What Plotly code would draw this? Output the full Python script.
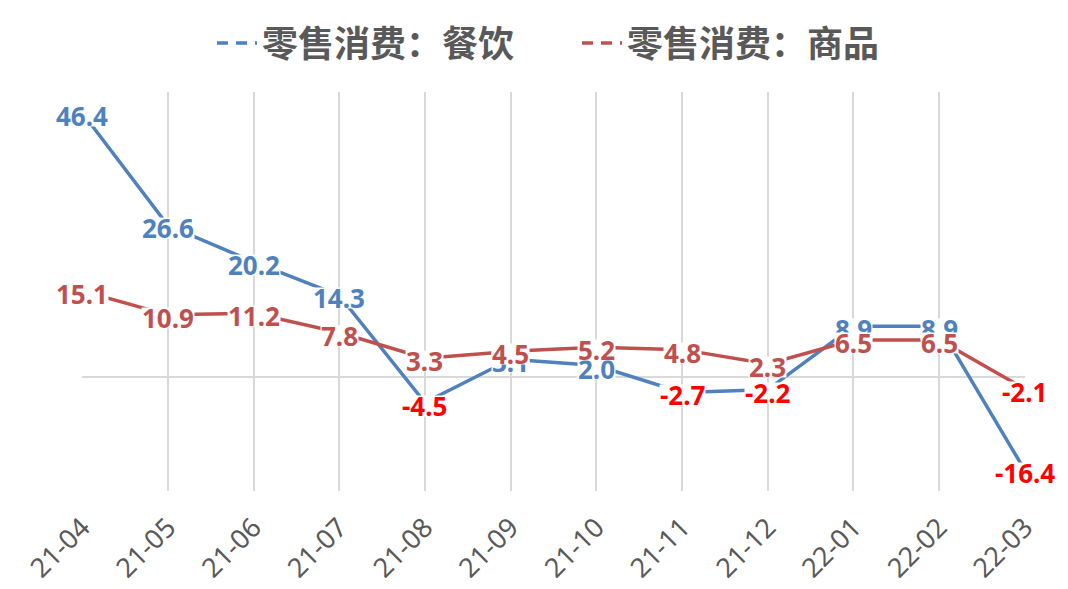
import plotly.graph_objects as go

categories = ["21-04", "21-05", "21-06", "21-07", "21-08", "21-09",
              "21-10", "21-11", "21-12", "22-01", "22-02", "22-03"]
catering = [46.4, 26.6, 20.2, 14.3, -4.5, 3.1, 2.0, -2.7, -2.2, 8.9, 8.9, -16.4]
goods = [15.1, 10.9, 11.2, 7.8, 3.3, 4.5, 5.2, 4.8, 2.3, 6.5, 6.5, -2.1]
series_names = ["零售消费：餐饮", "零售消费：商品"]

BLUE = "#4F81BD"
RED = "#C0504D"
NEG = "#FF0000"
GRAY = "#595959"
GRID = "#D9D9D9"
NUMFONT = "Noto Sans, Noto Sans CJK SC, sans-serif"
CJKFONT = "Noto Sans CJK SC, sans-serif"

fig = go.Figure()
series = [(series_names[0], catering, BLUE), (series_names[1], goods, RED)]
for name, vals, col in series:
    fig.add_trace(go.Scatter(x=categories, y=vals, mode="lines", name=name,
                             line=dict(color=col, width=3.5), showlegend=False))
for name, vals, col in series:
    fig.add_trace(go.Scatter(x=[None], y=[None], mode="lines", name=name,
                             line=dict(color=col, width=3.5, dash="11px,8px")))

annotations = []
for name, vals, col in series:
    for c, v in zip(categories, vals):
        annotations.append(dict(
            x=c, y=v, xref="x", yref="y", text=f"<b>{v:.1f}</b>",
            showarrow=False, bgcolor="white", borderpad=0, yshift=-3,
            height=20, valign="middle",
            font=dict(family=NUMFONT, size=26, color=NEG if v < 0 else col)))

fig.update_layout(
    width=1068, height=589,
    margin=dict(l=82, r=43, t=92, b=98, autoexpand=False),
    paper_bgcolor="white", plot_bgcolor="white",
    annotations=annotations,
    legend=dict(orientation="h", xref="container", yref="container",
                x=212 / 1068, xanchor="left", y=0.927, yanchor="middle",
                font=dict(family=CJKFONT, size=36, color=GRAY, weight="bold"),
                itemwidth=40, entrywidth=310),
    xaxis=dict(type="category", range=[-0.001, 11.001], showgrid=True,
               automargin=False,
               gridcolor=GRID, gridwidth=2, showline=False, zeroline=False,
               tickangle=-45, ticks="outside", ticklen=9, tickcolor="rgba(0,0,0,0)",
               tickfont=dict(family=NUMFONT, size=27, color=GRAY)),
    yaxis=dict(range=[-20, 50], showgrid=False, zeroline=True, automargin=False,
               zerolinecolor=GRID, zerolinewidth=2, showticklabels=False,
               showline=False),
)

fig.write_html("out.html")
